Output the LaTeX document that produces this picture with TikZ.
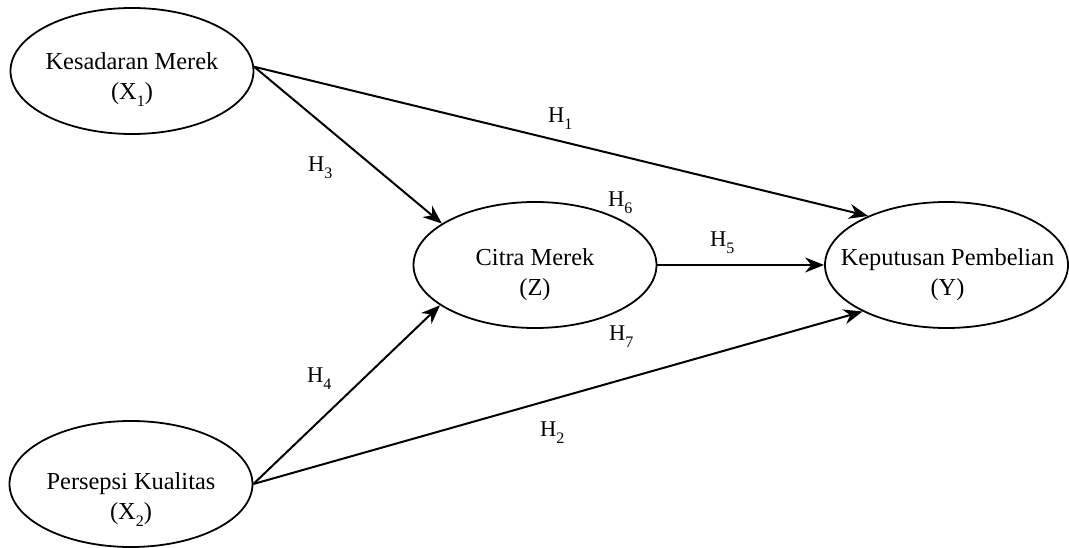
\documentclass[tikz,border=0pt]{standalone}
\usepackage{fontspec}
\setmainfont{Liberation Serif}
\usetikzlibrary{arrows.meta,shapes.geometric}
% lowered small index after a letter (X_1, H_3, ...)
\newcommand{\lowsub}[1]{\raisebox{-7pt}{\fontsize{16}{16}\selectfont #1}}
\begin{document}
\begin{tikzpicture}[x=1pt,y=-1pt,
  construct/.style={draw, line width=1.8pt, ellipse, inner sep=0pt,
    minimum width=243pt, minimum height=126pt},
  caption/.style={align=center, inner sep=0pt,
    font=\fontsize{24.4}{30}\selectfont},
  link/.style={line width=2pt, -{Stealth[length=19pt,width=15pt]}},
  hyp/.style={anchor=base west, inner sep=0pt,
    font=\fontsize{22.5}{24}\selectfont}]
\useasboundingbox (0,0) rectangle (1069,548);

% latent constructs
\node[construct] (k) at (132,71)  {};
\node[construct] (p) at (131,484) {};
\node[construct] (z) at (535,265) {};
\node[construct] (y) at (946.5,265) {};

\node[caption] (kt) at (132,80)  {Kesadaran Merek\\(X\lowsub{1})};
\node[caption] (pt) at (131,500) {Persepsi Kualitas\\(X\lowsub{2})};
\node[caption] (zt) at (535,275) {Citra Merek\\(Z)};
\node[caption] (yt) at (947.5,275) {Keputusan Pembelian\\(Y)};

% hypothesised paths
\draw[link] (k.2)    -- (y.148);
\draw[link] (k.2)    -- (z.156);
\draw[link] (p.east) -- (z.203);
\draw[link] (p.east) -- (y.209);
\draw[link] (z.east) -- (y.west);

% hypothesis labels
\node[hyp] (h1) at (548,123) {H\lowsub{1}};
\node[hyp] (h2) at (540,436) {H\lowsub{2}};
\node[hyp] (h3) at (308,172) {H\lowsub{3}};
\node[hyp] (h4) at (307,382) {H\lowsub{4}};
\node[hyp] (h5) at (710,247) {H\lowsub{5}};
\node[hyp] (h6) at (608,207) {H\lowsub{6}};
\node[hyp] (h7) at (609,340) {H\lowsub{7}};
\end{tikzpicture}
\end{document}
